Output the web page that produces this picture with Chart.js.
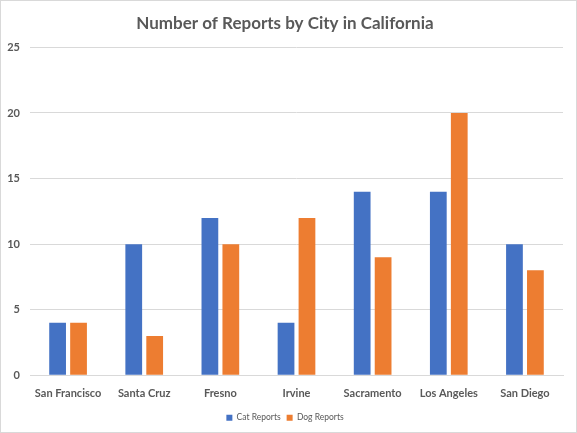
<!DOCTYPE html>
<html>
<head>
<meta charset="utf-8">
<script src="https://cdn.jsdelivr.net/npm/chart.js@4/dist/chart.umd.min.js"></script>
<style>
  html, body { margin: 0; padding: 0; background: #fff; }
  #wrap { position: absolute; left: 0; top: 0; width: 575px; height: 431px; border: 1px solid #d9d9d9; background: #fff; }
  canvas { display: block; }
</style>
</head>
<body>
<div id="wrap"><canvas id="c" width="575" height="431"></canvas></div>
<script>
const categories = ["San Francisco", "Santa Cruz", "Fresno", "Irvine", "Sacramento", "Los Angeles", "San Diego"];
const catReports = [4, 10, 12, 4, 14, 14, 10];
const dogReports = [4, 3, 10, 12, 9, 20, 8];
const seriesNames = ["Cat Reports", "Dog Reports"];
const titleText = "Number of Reports by City in California";

const FONT = "Lato, 'Open Sans', sans-serif";

new Chart(document.getElementById('c'), {
  type: 'bar',
  data: {
    labels: categories,
    datasets: [
      { label: seriesNames[0], data: catReports, backgroundColor: '#4472c4', borderWidth: 0 },
      { label: seriesNames[1], data: dogReports, backgroundColor: '#ed7d31', borderWidth: 0 }
    ]
  },
  options: {
    responsive: false,
    animation: false,
    devicePixelRatio: 1,
    layout: { padding: { left: 6, right: 13, top: 4, bottom: 0 } },
    datasets: { bar: { categoryPercentage: 0.55, barPercentage: 0.8 } },
    plugins: {
      title: {
        display: true,
        text: titleText,
        color: '#595959',
        font: { family: FONT, size: 17, weight: 'bold' },
        padding: { top: 8, bottom: 14 }
      },
      legend: {
        position: 'bottom',
        labels: {
          color: '#595959',
          font: { family: FONT, size: 8.5 },
          boxWidth: 6,
          boxHeight: 6,
          padding: 6
        }
      },
      tooltip: { enabled: false }
    },
    scales: {
      x: {
        grid: { display: false, drawTicks: false },
        border: { display: true, color: '#d9d9d9' },
        afterFit: (s) => { s.height -= 5; },
        ticks: { color: '#595959', font: { family: FONT, size: 11, weight: 'bold' }, maxRotation: 0, padding: 12 }
      },
      y: {
        min: 0, max: 25,
        grid: { color: '#d9d9d9', drawTicks: false },
        border: { display: false },
        afterFit: (s) => { s.width = 23; },
        ticks: { stepSize: 5, color: '#595959', font: { family: FONT, size: 11, weight: 'bold' }, padding: 10 }
      }
    }
  }
});
</script>
</body>
</html>
